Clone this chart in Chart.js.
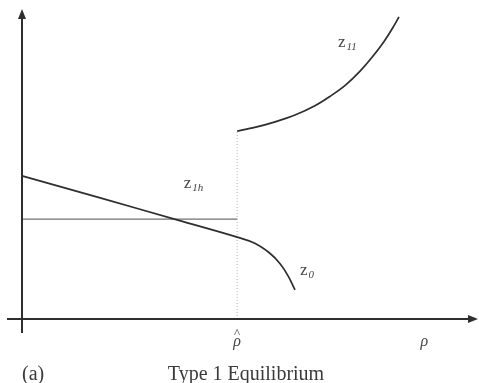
<!DOCTYPE html>
<html>
<head>
<meta charset="utf-8">
<script src="https://cdn.jsdelivr.net/npm/chart.js@4/dist/chart.umd.min.js"></script>
<style>
  html, body { margin: 0; padding: 0; background: #fff; }
  #c { display: block; }
</style>
</head>
<body>
<canvas id="c" width="479" height="383"></canvas>
<script>
// Threshold rho-hat where the equilibrium switches branches
const rhoHat = 4.76;

// Lower branch z0 (defined up to and a little past rho-hat)
const z0X = [0, 1.73, 3.45, 4.76, 5.15, 5.49, 5.71, 5.89, 6.04];
const z0Y = [4.63, 3.92, 3.20, 2.65, 2.45, 2.12, 1.79, 1.39, 0.94];

// Upper branch z11 (starts at rho-hat)
const z11X = [4.76, 5.15, 5.60, 6.04, 6.48, 6.81, 7.15, 7.48, 7.74, 8.01, 8.21, 8.34];
const z11Y = [6.08, 6.20, 6.38, 6.60, 6.90, 7.20, 7.56, 8.02, 8.46, 8.98, 9.44, 9.78];

// Flat level z1h, from the origin to rho-hat
const z1hLevel = 3.23;

const toPts = (xs, ys) => xs.map((x, i) => ({ x: x, y: ys[i] }));

const SERIF = '"Liberation Serif", "DejaVu Serif", serif';
const INK = '#2e2e2e';

// Axes with arrowheads, axis labels, curve labels and caption
const decor = {
  id: 'decor',
  afterDatasetsDraw(chart) {
    const { ctx, chartArea: a, scales } = chart;
    const xs = scales.x, ys = scales.y;
    const ox = xs.getPixelForValue(0), oy = ys.getPixelForValue(0);
    ctx.save();
    ctx.strokeStyle = INK;
    ctx.fillStyle = INK;
    ctx.lineWidth = 2;
    // horizontal axis
    ctx.beginPath();
    ctx.moveTo(ox - 15, oy);
    ctx.lineTo(a.right - 2, oy);
    ctx.stroke();
    ctx.beginPath();
    ctx.moveTo(a.right + 4, oy);
    ctx.lineTo(a.right - 6, oy - 4);
    ctx.lineTo(a.right - 6, oy + 4);
    ctx.closePath();
    ctx.fill();
    // vertical axis
    ctx.beginPath();
    ctx.moveTo(ox, oy + 14);
    ctx.lineTo(ox, a.top + 6);
    ctx.stroke();
    ctx.beginPath();
    ctx.moveTo(ox, a.top - 1);
    ctx.lineTo(ox - 4, a.top + 9);
    ctx.lineTo(ox + 4, a.top + 9);
    ctx.closePath();
    ctx.fill();

    // rho-hat and rho under the horizontal axis
    ctx.fillStyle = '#444';
    ctx.textAlign = 'center';
    ctx.textBaseline = 'alphabetic';
    const hx = xs.getPixelForValue(rhoHat);
    ctx.font = 'italic 16px ' + SERIF;
    ctx.fillText('\u03C1', hx, oy + 27);
    ctx.font = '13px ' + SERIF;
    ctx.fillText('^', hx, oy + 18);
    ctx.font = 'italic 16px ' + SERIF;
    ctx.fillText('\u03C1', xs.getPixelForValue(8.9), oy + 27);

    // curve labels: roman z with italic subscript
    const zLabel = (sub, vx, vy) => {
      const px = xs.getPixelForValue(vx), py = ys.getPixelForValue(vy);
      ctx.textAlign = 'left';
      ctx.font = '17px ' + SERIF;
      ctx.fillText('z', px, py);
      const w = ctx.measureText('z').width;
      ctx.font = 'italic 11px ' + SERIF;
      ctx.fillText(sub, px + w + 1, py + 3);
    };
    zLabel('11', 6.99, 8.80);
    zLabel('1h', 3.58, 4.24);
    zLabel('0', 6.15, 1.42);

    // caption line
    ctx.fillStyle = '#3a3a3a';
    ctx.font = '20px ' + SERIF;
    ctx.textAlign = 'left';
    ctx.fillText('(a)', 22, oy + 61);
    ctx.textAlign = 'center';
    ctx.fillText('Type 1 Equilibrium', 246, oy + 61);
    ctx.restore();
  }
};

new Chart(document.getElementById('c'), {
  type: 'line',
  data: {
    datasets: [
      {
        label: 'z0',
        data: toPts(z0X, z0Y),
        borderColor: INK,
        borderWidth: 1.7,
        pointRadius: 0,
        tension: 0.4,
        clip: false
      },
      {
        label: 'z11',
        data: toPts(z11X, z11Y),
        borderColor: INK,
        borderWidth: 1.7,
        pointRadius: 0,
        cubicInterpolationMode: 'monotone',
        clip: false
      },
      {
        label: 'z1h',
        data: [{ x: 0, y: z1hLevel }, { x: rhoHat, y: z1hLevel }],
        borderColor: '#707070',
        borderWidth: 1.2,
        pointRadius: 0,
        clip: false
      },
      {
        label: 'rho-hat',
        data: [{ x: rhoHat, y: 0 }, { x: rhoHat, y: z11Y[0] }],
        borderColor: '#b4b4b4',
        borderWidth: 1,
        borderDash: [1, 2],
        pointRadius: 0,
        clip: false
      }
    ]
  },
  options: {
    responsive: false,
    animation: false,
    layout: { padding: { left: 22, right: 5, top: 10, bottom: 64 } },
    scales: {
      x: { type: 'linear', min: 0, max: 10, display: false },
      y: { type: 'linear', min: 0, max: 10, display: false }
    },
    plugins: {
      legend: { display: false },
      tooltip: { enabled: false },
      title: { display: false }
    }
  },
  plugins: [decor]
});
</script>
</body>
</html>
